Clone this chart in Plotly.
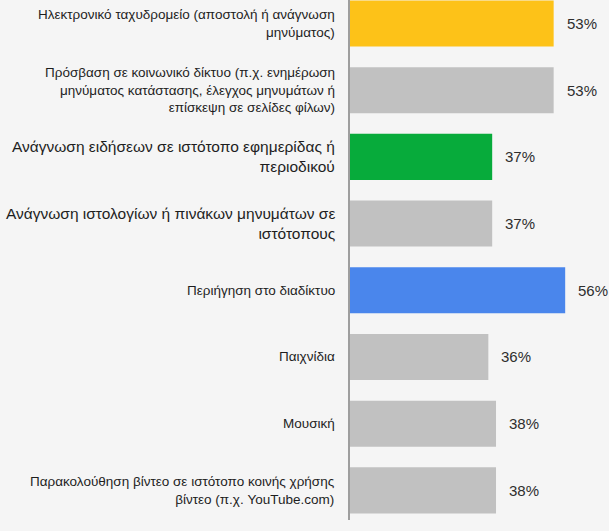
import plotly.graph_objects as go

categories = [
    "Ηλεκτρονικό ταχυδρομείο (αποστολή ή ανάγνωση<br>μηνύματος)",
    "Πρόσβαση σε κοινωνικό δίκτυο (π.χ. ενημέρωση<br>μηνύματος κατάστασης, έλεγχος μηνυμάτων ή<br>επίσκεψη σε σελίδες φίλων)",
    "Ανάγνωση ειδήσεων σε ιστότοπο εφημερίδας ή<br>περιοδικού",
    "Ανάγνωση ιστολογίων ή πινάκων μηνυμάτων σε<br>ιστότοπους",
    "Περιήγηση στο διαδίκτυο",
    "Παιχνίδια",
    "Μουσική",
    "Παρακολούθηση βίντεο σε ιστότοπο κοινής χρήσης<br>βίντεο (π.χ. YouTube.com)",
]
values = [53, 53, 37, 37, 56, 36, 38, 38]
value_labels = [f"{v}%" for v in values]

bar_colors = ["#FDC218", "#C1C1C1", "#07AB3B", "#C1C1C1",
              "#4A86EC", "#C1C1C1", "#C1C1C1", "#C1C1C1"]
label_sizes = [13.5, 13.5, 15.5, 15.5, 13.5, 13.5, 13.5, 13.5]

ids = list(range(len(categories)))

fig = go.Figure()
fig.add_trace(go.Bar(
    x=values,
    y=ids,
    orientation="h",
    marker=dict(color=bar_colors, line=dict(width=0)),
    width=0.69,
    hoverinfo="skip",
))

annotations = []
for i, (cat, v, lab, fs) in enumerate(zip(categories, values, value_labels, label_sizes)):
    annotations.append(dict(
        x=0, y=i, xref="x", yref="y", text=cat, showarrow=False,
        xanchor="right", yanchor="middle", align="right", xshift=-13,
        font=dict(family="Liberation Sans, Arial, sans-serif", size=fs, color="#1E1E1E"),
    ))
    annotations.append(dict(
        x=v, y=i, xref="x", yref="y", text=lab, showarrow=False,
        xanchor="left", yanchor="middle", xshift=11,
        font=dict(family="Liberation Sans, Arial, sans-serif", size=15, color="#2E2E2E"),
    ))

fig.update_layout(
    width=609, height=531,
    margin=dict(l=350, r=0, t=0, b=11),
    paper_bgcolor="#F5F5F5",
    plot_bgcolor="#F5F5F5",
    showlegend=False,
    annotations=annotations,
    xaxis=dict(range=[0, 67.4], visible=False, fixedrange=True),
    yaxis=dict(
        range=[7.444, -0.352],
        showticklabels=False, ticks="", showgrid=False, zeroline=False,
        showline=True, linecolor="#9E9E9E", linewidth=1.5,
        fixedrange=True,
    ),
    bargap=0.3,
)

fig.write_html("out.html", config={"displayModeBar": False})
